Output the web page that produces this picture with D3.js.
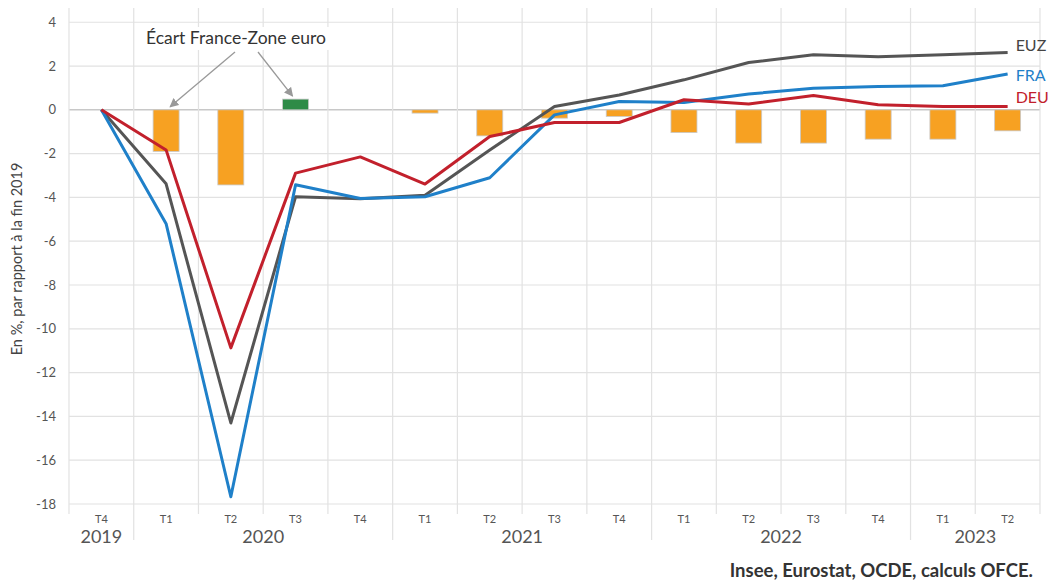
<!DOCTYPE html>
<html><head><meta charset="utf-8">
<script src="https://cdn.jsdelivr.net/npm/d3@7"></script>
<style>body{margin:0;background:#fff;}svg{display:block;font-family:Lato,"Open Sans",sans-serif;}</style>
</head><body><svg id="c" width="1058" height="582"></svg>
<script>
const quarters = ["T4","T1","T2","T3","T4","T1","T2","T3","T4","T1","T2","T3","T4","T1","T2"];
const years = [{label:"2019",start:0,end:0},{label:"2020",start:1,end:4},{label:"2021",start:5,end:8},{label:"2022",start:9,end:12},{label:"2023",start:13,end:14}];
const euz = [0,-3.38,-14.3,-3.97,-4.06,-3.9,-1.83,0.15,0.68,1.37,2.16,2.51,2.42,2.51,2.62];
const fra = [0,-5.2,-17.67,-3.42,-4.05,-3.97,-3.1,-0.23,0.38,0.33,0.72,0.99,1.07,1.1,1.64];
const deu = [0,-1.83,-10.87,-2.89,-2.15,-3.39,-1.22,-0.58,-0.58,0.46,0.27,0.65,0.23,0.15,0.15];
const ecart = [null,-1.9,-3.43,0.49,0,-0.15,-1.19,-0.38,-0.3,-1.04,-1.52,-1.52,-1.34,-1.34,-0.96];
const yTicks = [4,2,0,-2,-4,-6,-8,-10,-12,-14,-16,-18];

const svg = d3.select("#c");
const L=69, R=1040, T=8, B=504;
const x = d3.scaleBand().domain(d3.range(quarters.length)).range([L,R]).paddingInner(0).paddingOuter(0);
const y = d3.scaleLinear().domain([-18,4.65]).range([B,T]);
const cx = i => x(i)+x.bandwidth()/2;

// horizontal gridlines
svg.append("g").selectAll("line").data(yTicks).join("line")
  .attr("x1",L).attr("x2",R).attr("y1",d=>y(d)).attr("y2",d=>y(d))
  .attr("stroke",d=>d===0?"#c8c8c8":"#e2e2e2").attr("stroke-width",d=>d===0?1.5:1.2);
// vertical gridlines
const yearStarts = new Set(years.map(v=>v.start).filter(s=>s>0));
svg.append("g").selectAll("line").data(d3.range(quarters.length+1)).join("line")
  .attr("x1",i=>i<quarters.length?x(i):R).attr("x2",i=>i<quarters.length?x(i):R)
  .attr("y1",T).attr("y2",i=>yearStarts.has(i)?540:514)
  .attr("stroke","#e2e2e2").attr("stroke-width",1.2);

// y labels
svg.append("g").selectAll("text").data(yTicks).join("text")
  .attr("x",56).attr("y",d=>y(d)).attr("dy","0.35em").attr("text-anchor","end")
  .attr("font-size",13).attr("fill","#555").text(d=>d);
svg.append("text").attr("transform","translate(22,259) rotate(-90)").attr("text-anchor","middle")
  .attr("font-size",14.5).attr("fill","#444").text("En %, par rapport à la fin 2019");

// x labels
svg.append("g").selectAll("text").data(quarters).join("text")
  .attr("x",(d,i)=>cx(i)).attr("y",523).attr("text-anchor","middle")
  .attr("font-size",11).attr("fill","#555").text(d=>d);
svg.append("g").selectAll("text").data(years).join("text")
  .attr("x",d=>(x(d.start)+x(d.end)+x.bandwidth())/2).attr("y",543).attr("text-anchor","middle")
  .attr("font-size",18).attr("fill","#555").text(d=>d.label);

// bars
const bw = 26;
svg.append("g").selectAll("rect").data(ecart.map((v,i)=>({v,i})).filter(d=>d.v!==null && d.v!==0)).join("rect")
  .attr("x",d=>cx(d.i)-bw/2).attr("width",bw)
  .attr("y",d=>y(Math.max(0,d.v))).attr("height",d=>Math.abs(y(d.v)-y(0)))
  .attr("fill",d=>d.v>0?"#2e8b47":"#f7a122").attr("stroke","#c9c9c9").attr("stroke-width",0.8);

// lines
const line = d3.line().x((d,i)=>cx(i)).y(d=>y(d));
[[euz,"#555555"],[fra,"#1f80c9"],[deu,"#c2202c"]].forEach(([data,col])=>{
  svg.append("path").datum(data).attr("d",line).attr("fill","none")
    .attr("stroke",col).attr("stroke-width",3).attr("stroke-linejoin","round");
});
// series labels
const last = quarters.length-1;
[["EUZ",euz,"#444",-7],["FRA",fra,"#1f80c9",1],["DEU",deu,"#c2202c",-9]].forEach(([t,d,c,off])=>{
  svg.append("text").attr("x",cx(last)+8).attr("y",y(d[last])+off).attr("dy","0.35em")
    .attr("font-size",16).attr("fill",c).text(t);
});

// annotation
const defs = svg.append("defs");
defs.append("marker").attr("id","arr").attr("viewBox","0 0 10 10").attr("refX",9).attr("refY",5)
  .attr("markerWidth",7).attr("markerHeight",7).attr("orient","auto-start-reverse")
  .append("path").attr("d","M0,0 L10,5 L0,10 z").attr("fill","#999");
svg.append("rect").attr("x",140).attr("y",27).attr("width",192).attr("height",23).attr("fill","#fff");
svg.append("text").attr("x",236).attr("y",44).attr("text-anchor","middle").attr("font-size",17.5)
  .attr("fill","#333").text("Écart France-Zone euro");
svg.append("line").attr("x1",235).attr("y1",52).attr("x2",cx(1)+4).attr("y2",y(0)-3)
  .attr("stroke","#999").attr("stroke-width",1.3).attr("marker-end","url(#arr)");
svg.append("line").attr("x1",258).attr("y1",52).attr("x2",cx(3)-3).attr("y2",y(ecart[3])-3)
  .attr("stroke","#999").attr("stroke-width",1.3).attr("marker-end","url(#arr)");

// source
svg.append("text").attr("x",1033).attr("y",577).attr("text-anchor","end").attr("font-size",18.5)
  .attr("font-weight","bold").attr("fill","#333").text("Insee, Eurostat, OCDE, calculs OFCE.");
</script></body></html>
